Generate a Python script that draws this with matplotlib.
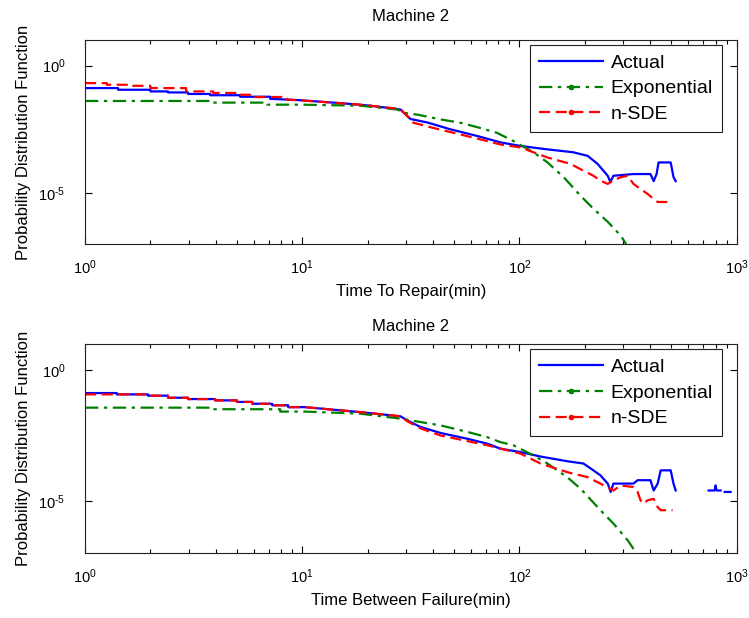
import numpy as np
import matplotlib
matplotlib.use("Agg")
import matplotlib.pyplot as plt
from matplotlib.lines import Line2D
from matplotlib.ticker import LogLocator, NullLocator, NullFormatter, FixedFormatter

plt.rcParams['font.family'] = ['Liberation Sans', 'DejaVu Sans']
plt.rcParams['mathtext.default'] = 'regular'
plt.rcParams['axes.unicode_minus'] = False

nan = np.nan

# ---- Machine 2, time to repair ----
ttr_actual_x = [1, 1.42, 1.42, 2.0, 2.0, 2.41, 2.41, 2.98, 2.98, 3.77, 3.77, 5.18, 5.18, 7.12, 7.12, 9.8,
                15, 20.6, 28.3, 31.5, 37.7, 48, 64, 81.7, 101, 134.6, 177, 206, 229, 255, 262, 271,
                335, 401, 415, 428, 437, 497, 512, 524]
ttr_actual_y = [0.132, 0.132, 0.1135, 0.1135, 0.0977, 0.0977, 0.0891, 0.0891, 0.0776, 0.0776, 0.0692, 0.0692,
                0.0603, 0.0603, 0.0501, 0.044,
                0.0339, 0.0269, 0.0191, 8.1e-3, 5.9e-3, 3.2e-3, 1.74e-3, 9.8e-4, 7.1e-4, 5.2e-4, 4.0e-4,
                2.9e-4, 1.4e-4, 4.8e-5, 2.75e-5, 4.8e-5,
                5.6e-5, 5.6e-5, 2.95e-5, 5.6e-5, 1.6e-4, 1.6e-4, 4.3e-5, 2.95e-5]

ttr_exp_x = [1, 3.89, 3.89, 6.9, 6.9, 9.8, 18.5, 27.4, 29.2, 33.9, 43.3, 53.5, 66, 79, 93.8, 116, 134.6,
             159.6, 191, 219, 254.6, 292, 310]
ttr_exp_y = [0.0412, 0.0412, 0.0355, 0.0355, 0.0295, 0.0295, 0.0269, 0.0191, 0.0141, 0.0120, 7.8e-3,
             5.75e-3, 3.6e-3, 2.3e-3, 1.1e-3, 4.0e-4, 1.6e-4, 4.3e-5, 7.9e-6, 2.45e-6, 7.6e-7, 2.2e-7, 1.0e-7]

ttr_sde_x = [1, 1.26, 1.26, 1.58, 1.58, 2.0, 2.0, 2.92, 2.92, 3.89, 3.89, 5.0, 5.0, 5.76, 5.76, 8.5, 8.5,
             9.8, 18.5, 28.3, 30.5, 32.5, 40.2, 53.5, 66, 81.7, 101, 134.6, 172, 191, 219, 236, 255, 271,
             292, 315, 335, 361, 389, 415, 433, 497]
ttr_sde_y = [0.2065, 0.2065, 0.178, 0.178, 0.162, 0.162, 0.132, 0.132, 0.0977, 0.0977, 0.0851, 0.0851,
             0.0724, 0.0724, 0.0589, 0.0589, 0.0468, 0.0437, 0.0295, 0.020, 0.0105, 5.75e-3, 3.6e-3,
             2.0e-3, 1.29e-3, 8.1e-4, 6.2e-4, 2.5e-4, 1.4e-4, 8.7e-5, 4.8e-5, 3.1e-5, 2.3e-5, 3.1e-5,
             4.2e-5, 4.8e-5, 2.3e-5, 1.45e-5, 9.3e-6, 5.9e-6, 4.5e-6, 4.5e-6]

# ---- Machine 2, time between failure ----
tbf_actual_x = [1, 1.40, 1.40, 1.95, 1.95, 2.41, 2.41, 2.98, 2.98, 3.97, 3.97, 5.0, 5.0, 5.89, 5.89, 7.27,
                7.27, 8.62, 8.62, 10.3, 18.5, 28.3, 30.5, 35, 43.3, 57.5, 71.2, 81.7, 101, 125, 166, 197,
                219, 236, 255, 263, 271, 335, 350, 401, 415, 433, 447, 497, 512, 524,
                nan, 743, 792, 800, 809, 844, nan, 881, 938]
tbf_actual_y = [0.135, 0.135, 0.120, 0.120, 0.107, 0.107, 0.0891, 0.0891, 0.0794, 0.0794, 0.0708, 0.0708,
                0.0617, 0.0617, 0.0525, 0.0525, 0.0457, 0.0457, 0.0389, 0.0389, 0.0251, 0.0174, 0.0120,
                6.8e-3, 4.0e-3, 2.4e-3, 1.55e-3, 1.0e-3, 7.4e-4, 5.0e-4, 3.3e-4, 2.7e-4, 1.48e-4, 9.5e-5,
                4.6e-5, 2.2e-5, 4.6e-5, 4.6e-5, 6.2e-5, 6.2e-5, 2.5e-5, 4.6e-5, 1.48e-4, 1.48e-4, 4.6e-5,
                2.5e-5, nan, 2.5e-5, 2.5e-5, 3.9e-5, 2.5e-5, 2.5e-5, nan, 2.2e-5, 2.2e-5]

tbf_exp_x = [1, 3.89, 3.89, 7.92, 7.92, 10.3, 18.5, 28.3, 35, 43.3, 57.5, 71.2, 81.7, 93.8, 116, 134.6,
             166, 191, 236, 271, 315, 346]
tbf_exp_y = [0.0372, 0.0372, 0.0324, 0.0324, 0.0263, 0.0263, 0.0219, 0.0141, 0.0105, 7.8e-3, 4.4e-3,
             2.75e-3, 1.78e-3, 1.35e-3, 5.5e-4, 2.7e-4, 8.1e-5, 2.95e-5, 4.4e-6, 1.35e-6, 3.1e-7, 9.8e-8]

tbf_sde_x = [1, 1.95, 1.95, 2.41, 2.41, 2.98, 2.98, 3.97, 3.97, 5.0, 5.0, 5.89, 5.89, 7.27, 7.27, 8.62,
             8.62, 10.3, 18.5, 28.3, 30.5, 35, 43.3, 71.2, 101, 125, 166, 206, 236, 271, 292, 335, 350,
             361, 373, 389, 415, 433, 447, 507]
tbf_sde_y = [0.120, 0.120, 0.107, 0.107, 0.0891, 0.0891, 0.0794, 0.0794, 0.0708, 0.0708, 0.0617, 0.0617,
             0.0525, 0.0525, 0.0457, 0.0457, 0.0389, 0.0389, 0.0251, 0.0174, 0.0112, 6.0e-3, 3.2e-3,
             1.35e-3, 6.5e-4, 2.7e-4, 1.26e-4, 8.1e-5, 4.6e-5, 2.5e-5, 3.9e-5, 3.4e-5, 2.2e-5, 1.05e-5,
             7.8e-6, 1.05e-5, 1.2e-5, 5.75e-6, 4.4e-6, 4.4e-6]

labels = ['Actual', 'Exponential', 'n-SDE']
xlabels = ['Time To Repair(min)', 'Time Between Failure(min)']
yticks = [1e-5, 1e0]
ytick_labels = ['10$^{\u2010 5}$', '10$^{0}$']

blue = '#0000ff'
green = '#008000'
red = '#ff0000'
dashdot = (0, (6, 2.5, 1.5, 2.5))
dashed = (0, (5, 2.5))

fig = plt.figure(figsize=(7.49, 6.18), dpi=100)
ax1 = fig.add_axes([0.1135, 0.605, 0.870, 0.330])
ax2 = fig.add_axes([0.1135, 0.105, 0.870, 0.338])

panels = [
    (ax1, ttr_actual_x, ttr_actual_y, ttr_exp_x, ttr_exp_y, ttr_sde_x, ttr_sde_y, xlabels[0], 14),
    (ax2, tbf_actual_x, tbf_actual_y, tbf_exp_x, tbf_exp_y, tbf_sde_x, tbf_sde_y, xlabels[1], 9.5),
]

for ax, ax_x, ax_y, ex_x, ex_y, sd_x, sd_y, xl, tpad in panels:
    ax.plot(ax_x, ax_y, color=blue, lw=1.6, ls='-')
    ax.plot(ex_x, ex_y, color=green, lw=1.6, ls=dashdot)
    ax.plot(sd_x, sd_y, color=red, lw=1.6, ls=dashed)
    ax.set_xscale('log')
    ax.set_yscale('log')
    ax.set_xlim(1, 1000)
    ax.set_ylim(1e-7, 10)
    ax.set_yticks(yticks)
    ax.yaxis.set_major_formatter(FixedFormatter(ytick_labels))
    ax.yaxis.set_minor_locator(NullLocator())
    ax.xaxis.set_minor_locator(LogLocator(base=10, subs=np.arange(2, 10)))
    ax.xaxis.set_minor_formatter(NullFormatter())
    ax.tick_params(which='both', direction='in', top=True, right=True, labelsize=10.5)
    ax.tick_params(which='major', length=5, width=0.8)
    ax.tick_params(which='minor', length=3, width=0.8)
    ax.tick_params(axis='x', which='major', pad=10)
    ax.tick_params(axis='y', which='major', pad=14)
    for s in ax.spines.values():
        s.set_linewidth(0.8)
        s.set_color('#222222')
    ax.set_title('Machine 2', fontsize=12, pad=tpad)
    ax.set_xlabel(xl, fontsize=12, labelpad=5)
    ax.set_ylabel('Probability Distribution Function', fontsize=12, labelpad=5)

    handles = [
        Line2D([], [], color=blue, lw=1.6, ls='-'),
        Line2D([], [], color=green, lw=1.6, ls=dashdot, marker='.', markersize=6),
        Line2D([], [], color=red, lw=1.6, ls=dashed, marker='.', markersize=6),
    ]
    leg = ax.legend(handles, labels, loc='upper right', bbox_to_anchor=(0.977, 0.975),
                    borderaxespad=0, fancybox=False, framealpha=1, fontsize=14,
                    handlelength=3.3, handletextpad=0.4, labelspacing=0.42, borderpad=0.45)
    leg.get_frame().set_edgecolor('#222222')
    leg.get_frame().set_linewidth(0.8)

fig.savefig('out.png', dpi=100)
